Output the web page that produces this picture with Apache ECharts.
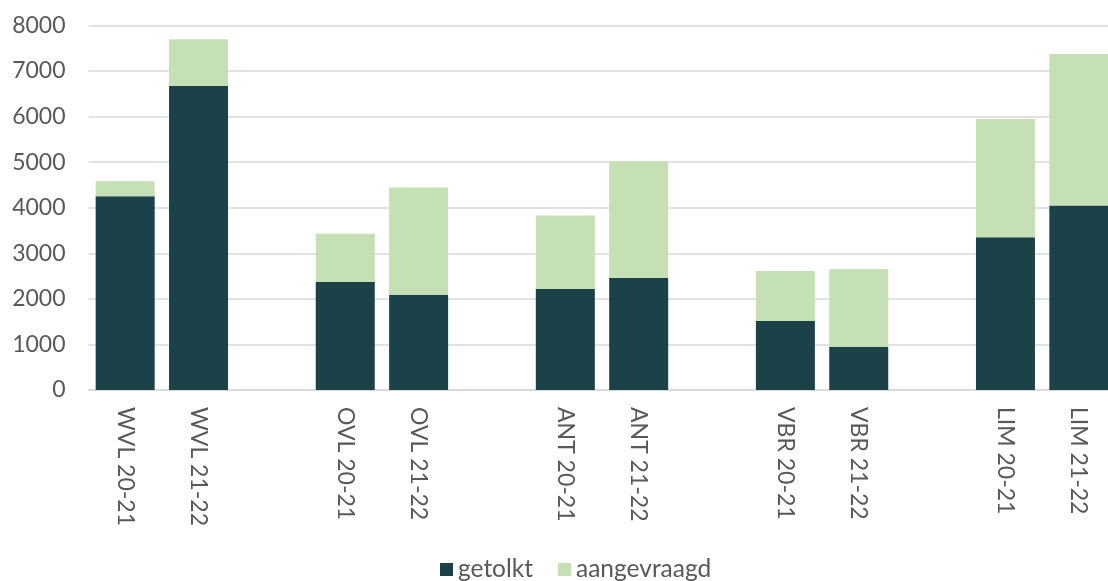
<!DOCTYPE html>
<html>
<head>
<meta charset="utf-8">
<script src="https://cdn.jsdelivr.net/npm/echarts@6/dist/echarts.min.js"></script>
<style>
html,body{margin:0;padding:0;background:#fff;}
#c{width:1108px;height:581px;}
</style>
</head>
<body>
<div id="c"></div>
<script>
var categories = ['WVL 20-21','WVL 21-22','','OVL 20-21','OVL 21-22','','ANT 20-21','ANT 21-22','','VBR 20-21','VBR 21-22','','LIM 20-21','LIM 21-22'];
var getolkt =     [4250, 6670, null, 2370, 2090, null, 2215, 2460, null, 1515, 950, null, 3355, 4050];
var aangevraagd = [330, 1030, null, 1060, 2355, null, 1615, 2560, null, 1095, 1705, null, 2595, 3325];
var yTicks = [0, 1000, 2000, 3000, 4000, 5000, 6000, 7000, 8000];

var chart = echarts.init(document.getElementById('c'));
var font = 'Lato, "Open Sans", sans-serif';
chart.setOption({
  animation: false,
  textStyle: {fontFamily: font},
  grid: {left: 88.5, width: 1027, top: 25.5, height: 364.5, containLabel: false, outerBoundsMode: 'none'},
  legend: {
    data: ['getolkt', 'aangevraagd'],
    left: 435, top: 552,
    itemWidth: 13, itemHeight: 13, itemGap: 25,
    icon: 'rect',
    textStyle: {fontSize: 24.5, color: '#595959', fontFamily: font}
  },
  xAxis: {
    type: 'category',
    data: categories,
    axisTick: {show: false},
    axisLine: {lineStyle: {color: '#D9D9D9', width: 1.5}},
    axisLabel: {rotate: -90, interval: 0, margin: 17, fontSize: 23, color: '#595959', fontFamily: font}
  },
  yAxis: {
    type: 'value',
    min: yTicks[0], max: yTicks[yTicks.length - 1], interval: 1000,
    axisLine: {show: false},
    axisTick: {show: false},
    splitLine: {lineStyle: {color: '#D9D9D9', width: 1.5}},
    axisLabel: {margin: 23, fontSize: 23, color: '#595959', fontFamily: font,
      formatter: function (v) { return String(v); }}
  },
  series: [
    {name: 'getolkt', type: 'bar', stack: 'a', data: getolkt, barWidth: 59,
     itemStyle: {color: '#1B4149'}},
    {name: 'aangevraagd', type: 'bar', stack: 'a', data: aangevraagd, barWidth: 59,
     itemStyle: {color: '#C5E0B4'}}
  ]
});
</script>
</body>
</html>
